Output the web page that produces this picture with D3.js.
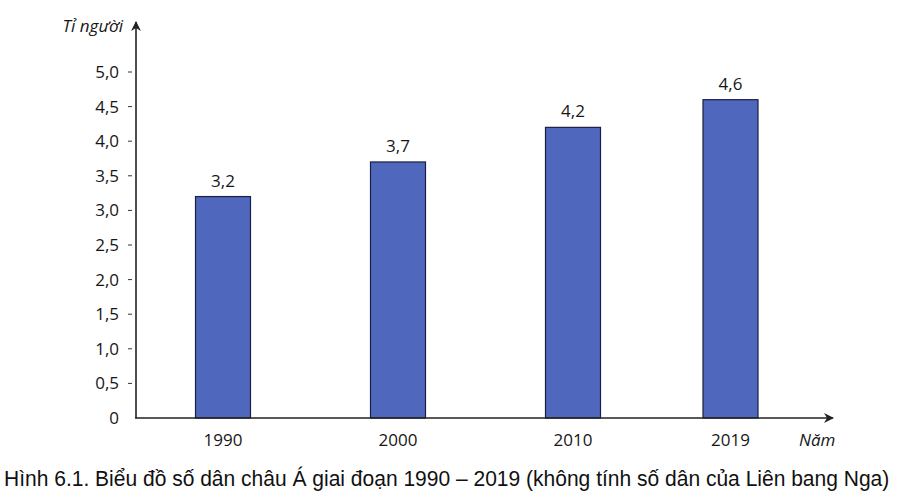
<!DOCTYPE html>
<html>
<head>
<meta charset="utf-8">
<script src="https://cdn.jsdelivr.net/npm/d3@7"></script>
<style>
  html, body { margin: 0; padding: 0; background: #fff; }
  svg { display: block; }
</style>
</head>
<body>
<div id="chart"></div>
<script>
// Data
const years = [1990, 2000, 2010, 2019];
const population = [3.2, 3.7, 4.2, 4.6];          // billion people
const yTicks = [0, 0.5, 1.0, 1.5, 2.0, 2.5, 3.0, 3.5, 4.0, 4.5, 5.0];
const yAxisTitle = "Tỉ người";
const xAxisTitle = "Năm";
const caption = "Hình 6.1. Biểu đồ số dân châu Á giai đoạn 1990 – 2019 (không tính số dân của Liên bang Nga)";

const width = 907, height = 501;
const axisX = 136, axisY = 418;
const labelFont = "'Open Sans', 'Noto Sans', sans-serif";
const labelSize = 17;
const ink = "#161616";

const svg = d3.select("#chart").append("svg")
    .attr("width", width)
    .attr("height", height);

// Years are placed proportionally in time
const x = d3.scaleLinear().domain([1990, 2019]).range([223, 730.5]);
const y = d3.scaleLinear().domain([0, 5]).range([axisY, 72]);
const barWidth = 55;

// Bars
const data = years.map((yr, i) => ({ year: yr, value: population[i] }));

svg.append("g")
    .selectAll("rect")
    .data(data)
    .enter().append("rect")
    .attr("x", d => x(d.year) - barWidth / 2)
    .attr("y", d => y(d.value))
    .attr("width", barWidth)
    .attr("height", d => y(0) - y(d.value))
    .attr("fill", "#4f67bd")
    .attr("stroke", "#1c2040")
    .attr("stroke-width", 1.2);

// Value labels
svg.append("g")
    .selectAll("text")
    .data(data)
    .enter().append("text")
    .attr("x", d => x(d.year))
    .attr("y", d => y(d.value) - 10)
    .attr("text-anchor", "middle")
    .attr("font-family", labelFont)
    .attr("font-size", labelSize)
    .attr("fill", ink)
    .text(d => d3.format(".1f")(d.value).replace(".", ","));

// Y axis ticks and labels
const yt = svg.append("g");
yt.selectAll("line")
    .data(yTicks.slice(1))
    .enter().append("line")
    .attr("x1", 128).attr("x2", 132)
    .attr("y1", d => y(d)).attr("y2", d => y(d))
    .attr("stroke", "#333")
    .attr("stroke-width", 1);
yt.selectAll("text")
    .data(yTicks)
    .enter().append("text")
    .attr("x", 119)
    .attr("y", d => y(d) + 6)
    .attr("text-anchor", "end")
    .attr("font-family", labelFont)
    .attr("font-size", labelSize)
    .attr("fill", ink)
    .text(d => d === 0 ? "0" : d3.format(".1f")(d).replace(".", ","));

// X axis labels
svg.append("g")
    .selectAll("text")
    .data(years)
    .enter().append("text")
    .attr("x", d => x(d))
    .attr("y", 446)
    .attr("text-anchor", "middle")
    .attr("font-family", labelFont)
    .attr("font-size", labelSize)
    .attr("fill", ink)
    .text(d => d);

// Axis lines with arrowheads
svg.append("defs").append("marker")
    .attr("id", "arrow")
    .attr("viewBox", "0 0 10 10")
    .attr("refX", 9).attr("refY", 5)
    .attr("markerWidth", 11).attr("markerHeight", 10)
    .attr("markerUnits", "userSpaceOnUse")
    .attr("orient", "auto")
    .append("path")
    .attr("d", "M0,0 L10,5 L0,10 L3,5 Z")
    .attr("fill", "#222");

svg.append("line")
    .attr("x1", axisX).attr("y1", axisY + 0.5)
    .attr("x2", axisX).attr("y2", 22)
    .attr("stroke", "#222").attr("stroke-width", 1.6)
    .attr("marker-end", "url(#arrow)");

svg.append("line")
    .attr("x1", axisX - 0.8).attr("y1", axisY)
    .attr("x2", 833).attr("y2", axisY)
    .attr("stroke", "#222").attr("stroke-width", 1.6)
    .attr("marker-end", "url(#arrow)");

// Axis titles
svg.append("text")
    .attr("x", 123).attr("y", 32)
    .attr("text-anchor", "end")
    .attr("font-family", labelFont)
    .attr("font-style", "italic")
    .attr("font-size", labelSize)
    .attr("fill", ink)
    .text(yAxisTitle);

svg.append("text")
    .attr("x", 799).attr("y", 446)
    .attr("font-family", labelFont)
    .attr("font-style", "italic")
    .attr("font-size", labelSize)
    .attr("fill", ink)
    .text(xAxisTitle);

// Caption: condensed look by squeezing horizontally to the reference width
const cap = svg.append("text")
    .attr("font-family", "'Liberation Sans Narrow', 'Arial Narrow', 'Liberation Sans', sans-serif")
    .attr("font-size", 22)
    .attr("fill", "#111")
    .text(caption);
const capWidth = cap.node().getComputedTextLength();
const squeeze = Math.min(1, 886 / capWidth);
cap.attr("transform", `translate(4,486) scale(${squeeze},1)`);
</script>
</body>
</html>
